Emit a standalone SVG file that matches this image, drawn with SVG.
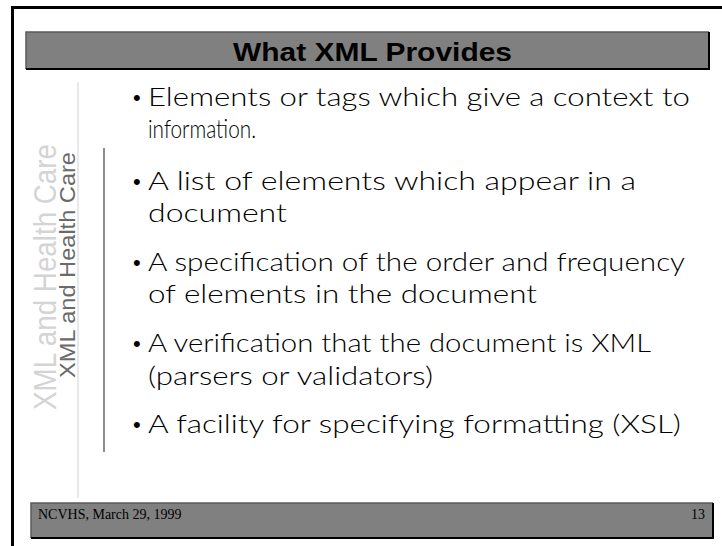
<svg xmlns="http://www.w3.org/2000/svg" width="722" height="546" viewBox="0 0 722 546">
  <style>
    .frame { stroke: #000; stroke-width: 3; fill: none; }
    .bar { fill: #808080; }
    .bar-hi { stroke: #5a5a5a; stroke-width: 1.5; fill: none; }
    .bar-lo { stroke: #000; stroke-width: 2; fill: none; }
    .title { font-family: "Liberation Sans", Arial, sans-serif; font-weight: bold; font-size: 26px; fill: #000; }
    .body { font-family: Lato, "Open Sans", "Liberation Sans", sans-serif; font-weight: 300; font-size: 25px; fill: #000; }
    .dot { font-family: "Liberation Sans", Arial, sans-serif; font-size: 22px; fill: #000; }
    .foot { font-family: "Liberation Serif", "Times New Roman", serif; font-size: 14px; fill: #000; }
    .side-big { font-family: "Liberation Sans", Arial, sans-serif; font-size: 32px; fill: #d4d4d4; }
    .side-small { font-family: "Liberation Sans", Arial, sans-serif; font-size: 22px; fill: #6a6a6a; }
  </style>

  <rect width="722" height="546" fill="#fff"/>

  <!-- page frame: top and left edges -->
  <g id="frame">
    <line class="frame" x1="11" y1="7.5" x2="722" y2="7.5"/>
    <line class="frame" x1="12.5" y1="6" x2="12.5" y2="546"/>
  </g>

  <!-- title band -->
  <g id="title">
    <rect class="bar" x="26" y="32" width="683" height="37"/>
    <polyline class="bar-hi" points="26,69 26,32 709,32"/>
    <polyline class="bar-lo" points="709,32 709,69 26,69"/>
    <text class="title" x="233" y="61" textLength="279" lengthAdjust="spacingAndGlyphs">What XML Provides</text>
  </g>

  <!-- vertical side label and rules -->
  <g id="side">
    <line x1="78" y1="82" x2="78" y2="498" stroke="#e2e2e2" stroke-width="1.5"/>
    <line x1="104" y1="148" x2="104" y2="452" stroke="#404040" stroke-width="1.2"/>
    <text class="side-big" transform="translate(56,410) rotate(-90)" textLength="266" lengthAdjust="spacingAndGlyphs">XML and Health Care</text>
    <text class="side-small" transform="translate(75,378) rotate(-90)" textLength="226" lengthAdjust="spacingAndGlyphs">XML and Health Care</text>
  </g>

  <!-- bullet list -->
  <g id="bullets">
    <g class="dot">
      <text x="133" y="105">•</text>
      <text x="133" y="189">•</text>
      <text x="133" y="270">•</text>
      <text x="133" y="351">•</text>
      <text x="133" y="432">•</text>
    </g>
    <g class="body">
      <text x="148" y="106" textLength="542" lengthAdjust="spacingAndGlyphs">Elements or tags which give a context to</text>
      <text x="148" y="138" textLength="108" lengthAdjust="spacingAndGlyphs">information.</text>
      <text x="148" y="190" textLength="488" lengthAdjust="spacingAndGlyphs">A list of elements which appear in a</text>
      <text x="148" y="222" textLength="139" lengthAdjust="spacingAndGlyphs">document</text>
      <text x="148" y="271" textLength="537" lengthAdjust="spacingAndGlyphs">A specification of the order and frequency</text>
      <text x="148" y="303" textLength="389" lengthAdjust="spacingAndGlyphs">of elements  in the document</text>
      <text x="148" y="352" textLength="503" lengthAdjust="spacingAndGlyphs">A verification that the document is XML</text>
      <text x="148" y="385" textLength="285" lengthAdjust="spacingAndGlyphs">(parsers or validators)</text>
      <text x="148" y="433" textLength="533" lengthAdjust="spacingAndGlyphs">A facility for specifying formatting (XSL)</text>
    </g>
  </g>

  <!-- footer band -->
  <g id="footer">
    <rect class="bar" x="31" y="503" width="682" height="35"/>
    <polyline class="bar-hi" points="31,538 31,503 713,503"/>
    <polyline class="bar-lo" points="713,503 713,538 31,538"/>
    <text class="foot" x="38" y="519">NCVHS, March 29, 1999</text>
    <text class="foot" x="705" y="519" text-anchor="end">13</text>
  </g>
</svg>
